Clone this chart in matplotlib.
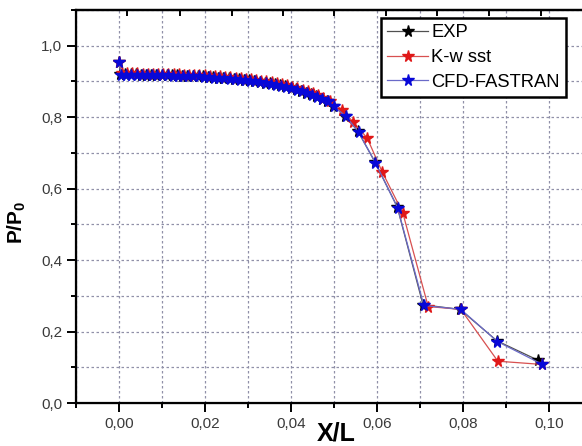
import numpy as np
import matplotlib
matplotlib.use("Agg")
import matplotlib.pyplot as plt
from matplotlib.ticker import MultipleLocator, FuncFormatter

plt.rcParams['font.family'] = ['Liberation Sans', 'DejaVu Sans']
plt.rcParams['mathtext.fontset'] = 'custom'
plt.rcParams['mathtext.rm'] = 'Liberation Sans'
plt.rcParams['mathtext.bf'] = 'Liberation Sans:bold'

# EXP data
exp_x = [0.0000, 0.0003, 0.0015, 0.0027, 0.0039, 0.0051, 0.0063, 0.0075, 0.0087, 0.0099,
         0.0111, 0.0123, 0.0135, 0.0147, 0.0159, 0.0171, 0.0183, 0.0195, 0.0207, 0.0219,
         0.0231, 0.0243, 0.0255, 0.0267, 0.0279, 0.0291, 0.0303, 0.0315, 0.0327, 0.0339,
         0.0351, 0.0363, 0.0375, 0.0387, 0.0399, 0.0411, 0.0423, 0.0435, 0.0447, 0.0459,
         0.0471, 0.0483, 0.0498, 0.0526, 0.0556, 0.0595, 0.0647, 0.0707, 0.0793, 0.0879,
         0.0974]
exp_y = [0.955, 0.920, 0.920, 0.920, 0.920, 0.919, 0.919, 0.919, 0.918, 0.918,
         0.918, 0.917, 0.917, 0.916, 0.916, 0.915, 0.915, 0.914, 0.913, 0.912,
         0.911, 0.910, 0.909, 0.908, 0.906, 0.905, 0.903, 0.901, 0.899, 0.897,
         0.895, 0.892, 0.889, 0.886, 0.882, 0.878, 0.874, 0.869, 0.864, 0.858,
         0.852, 0.845, 0.832, 0.804, 0.760, 0.675, 0.549, 0.275, 0.262, 0.174,
         0.120]

# K-w sst data
kw_x = [0.0000, 0.0007, 0.0019, 0.0031, 0.0043, 0.0055, 0.0067, 0.0079, 0.0091, 0.0103,
        0.0115, 0.0127, 0.0139, 0.0151, 0.0163, 0.0175, 0.0187, 0.0199, 0.0211, 0.0223,
        0.0235, 0.0247, 0.0259, 0.0271, 0.0283, 0.0295, 0.0307, 0.0319, 0.0331, 0.0343,
        0.0355, 0.0367, 0.0379, 0.0391, 0.0403, 0.0415, 0.0427, 0.0439, 0.0451, 0.0463,
        0.0475, 0.0490, 0.0519, 0.0544, 0.0577, 0.0612, 0.0660, 0.0719, 0.0795, 0.0881,
        0.0983]
kw_y = [0.955, 0.923, 0.923, 0.923, 0.923, 0.922, 0.922, 0.922, 0.921, 0.921,
        0.921, 0.920, 0.920, 0.919, 0.919, 0.918, 0.918, 0.917, 0.916, 0.915,
        0.914, 0.913, 0.912, 0.911, 0.909, 0.908, 0.906, 0.904, 0.902, 0.900,
        0.898, 0.895, 0.892, 0.889, 0.885, 0.881, 0.877, 0.872, 0.867, 0.861,
        0.855, 0.846, 0.821, 0.787, 0.742, 0.647, 0.532, 0.270, 0.262, 0.117,
        0.108]

# CFD-FASTRAN data
cfd_x = [0.0000, 0.0005, 0.0017, 0.0029, 0.0041, 0.0053, 0.0065, 0.0077, 0.0089, 0.0101,
         0.0113, 0.0125, 0.0137, 0.0149, 0.0161, 0.0173, 0.0185, 0.0197, 0.0209, 0.0221,
         0.0233, 0.0245, 0.0257, 0.0269, 0.0281, 0.0293, 0.0305, 0.0317, 0.0329, 0.0341,
         0.0353, 0.0365, 0.0377, 0.0389, 0.0401, 0.0413, 0.0425, 0.0437, 0.0449, 0.0461,
         0.0473, 0.0485, 0.0500, 0.0528, 0.0557, 0.0596, 0.0648, 0.0709, 0.0795, 0.0880,
         0.0983]
cfd_y = [0.955, 0.919, 0.919, 0.919, 0.919, 0.918, 0.918, 0.918, 0.917, 0.917,
         0.917, 0.916, 0.916, 0.915, 0.915, 0.914, 0.914, 0.913, 0.912, 0.911,
         0.910, 0.909, 0.908, 0.907, 0.905, 0.904, 0.902, 0.900, 0.898, 0.896,
         0.894, 0.891, 0.888, 0.885, 0.881, 0.877, 0.873, 0.868, 0.863, 0.857,
         0.851, 0.844, 0.830, 0.802, 0.758, 0.673, 0.546, 0.273, 0.262, 0.172,
         0.109]

fig = plt.figure(figsize=(5.82, 4.46), dpi=100)
ax = fig.add_axes([0.1306, 0.0964, 0.8866, 0.8812])

ax.plot(exp_x, exp_y, '-', color='#505050', lw=0.9, marker='*', ms=8.5,
        mfc='black', mec='black', label='EXP')
ax.plot(kw_x, kw_y, '-', color='#d85050', lw=0.9, marker='*', ms=8.5,
        mfc='#e01818', mec='#e01818', label='K-w sst')
ax.plot(cfd_x, cfd_y, '-', color='#6a6ac8', lw=0.9, marker='*', ms=8.5,
        mfc='#0808d8', mec='#0808d8', label='CFD-FASTRAN')

ax.set_xlim(-0.01, 0.11)
ax.set_ylim(0.0, 1.1)
ax.xaxis.set_major_locator(MultipleLocator(0.02))
ax.xaxis.set_minor_locator(MultipleLocator(0.01))
ax.yaxis.set_major_locator(MultipleLocator(0.2))
ax.yaxis.set_minor_locator(MultipleLocator(0.1))
ax.xaxis.set_major_formatter(FuncFormatter(lambda v, p: f"{v:.2f}".replace('.', ',').replace('-0,00', '0,00')))
ax.yaxis.set_major_formatter(FuncFormatter(lambda v, p: f"{v:.1f}".replace('.', ',')))

ax.grid(True, which='both', color='#9090a8', linestyle=(0, (2, 2)), lw=0.9)
ax.set_axisbelow(True)

ax.tick_params(which='major', direction='out', length=6.5, width=1.4,
               labelsize=11, labelcolor='#3a3a3a', top=False, right=False)
ax.tick_params(which='minor', direction='out', length=3.5, width=1.4,
               top=False, right=False)
for s in ax.spines.values():
    s.set_linewidth(1.6)

# odd top ticks
top = ax.twiny()
top.set_xlim(ax.get_xlim())
top.set_xticks([0.0019, 0.0142, 0.0263, 0.0381, 0.0500, 0.0621, 0.0740, 0.0860, 0.0981])
top.tick_params(direction='in', length=4.5, width=1.4, labeltop=False)
top.spines['top'].set_linewidth(1.6)

ax.set_xlabel('X/L', fontsize=18, fontweight='bold')
ax.xaxis.set_label_coords(0.504, -0.046)
ax.set_ylabel(r'P/P$_\mathbf{0}$', fontsize=15, fontweight='bold')
ax.yaxis.set_label_coords(-0.094, 0.46)

leg = ax.legend(loc='upper left', bbox_to_anchor=(0.591, 0.98), fontsize=13.2,
                frameon=True, fancybox=False, edgecolor='black', framealpha=1,
                handlelength=2.2, handletextpad=0.2, labelspacing=0.42,
                borderpad=0.35, borderaxespad=0)
leg.get_frame().set_linewidth(1.8)

fig.savefig('out.png', dpi=100)
